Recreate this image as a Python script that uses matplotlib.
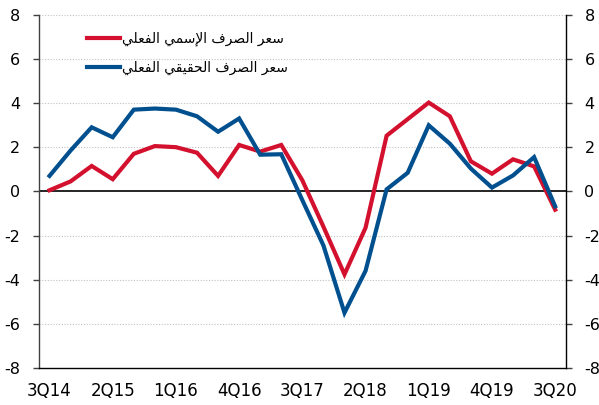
import matplotlib
matplotlib.use("Agg")
import matplotlib.pyplot as plt
import numpy as np

plt.rcParams['font.family'] = ['DejaVu Sans']
plt.rcParams['axes.unicode_minus'] = False

# quarterly data, 3Q14 .. 3Q20
quarters = ['3Q14', '4Q14', '1Q15', '2Q15', '3Q15', '4Q15', '1Q16', '2Q16', '3Q16',
            '4Q16', '1Q17', '2Q17', '3Q17', '4Q17', '1Q18', '2Q18', '3Q18', '4Q18',
            '1Q19', '2Q19', '3Q19', '4Q19', '1Q20', '2Q20', '3Q20']
nominal = [0.05, 0.45, 1.15, 0.55, 1.7, 2.05, 2.0, 1.75, 0.7, 2.1, 1.8, 2.1, 0.5,
           -1.6, -3.76, -1.65, 2.52, 3.27, 4.02, 3.4, 1.36, 0.8, 1.45, 1.13, -0.83]
real = [0.7, 1.85, 2.9, 2.45, 3.7, 3.75, 3.7, 3.4, 2.7, 3.3, 1.66, 1.68, -0.4,
        -2.45, -5.5, -3.6, 0.09, 0.84, 2.99, 2.16, 1.03, 0.17, 0.72, 1.55, -0.68]
label_nominal = 'سعر الصرف الإسمي الفعلي'
label_real = 'سعر الصرف الحقيقي الفعلي'
yticks = [-8, -6, -4, -2, 0, 2, 4, 6, 8]

# matplotlib has no arabic shaping, do a small one by hand
FORMS = {
    'ا': ('\ufe8d', '\ufe8e', None, None),
    'إ': ('\ufe87', '\ufe88', None, None),
    'ر': ('\ufead', '\ufeae', None, None),
    'س': ('\ufeb1', '\ufeb2', '\ufeb3', '\ufeb4'),
    'ع': ('\ufec9', '\ufeca', '\ufecb', '\ufecc'),
    'ل': ('\ufedd', '\ufede', '\ufedf', '\ufee0'),
    'ص': ('\ufeb9', '\ufeba', '\ufebb', '\ufebc'),
    'ف': ('\ufed1', '\ufed2', '\ufed3', '\ufed4'),
    'م': ('\ufee1', '\ufee2', '\ufee3', '\ufee4'),
    'ي': ('\ufef1', '\ufef2', '\ufef3', '\ufef4'),
    'ح': ('\ufea1', '\ufea2', '\ufea3', '\ufea4'),
    'ق': ('\ufed5', '\ufed6', '\ufed7', '\ufed8'),
}
LAMALEF = {'ا': ('\ufefb', '\ufefc'), 'إ': ('\ufef9', '\ufefa')}


def shape(s):
    out = []
    i = 0
    n = len(s)
    while i < n:
        c = s[i]
        if c not in FORMS:
            out.append(c)
            i += 1
            continue
        prev_join = i > 0 and s[i-1] in FORMS and FORMS[s[i-1]][2] is not None
        if c == 'ل' and i + 1 < n and s[i+1] in LAMALEF:
            out.append(LAMALEF[s[i+1]][1 if prev_join else 0])
            i += 2
            continue
        next_join = (FORMS[c][2] is not None and i + 1 < n and s[i+1] in FORMS)
        if prev_join and next_join:
            out.append(FORMS[c][3])
        elif prev_join:
            out.append(FORMS[c][1])
        elif next_join:
            out.append(FORMS[c][2])
        else:
            out.append(FORMS[c][0])
        i += 1
    return ''.join(out)[::-1]


x = np.arange(len(quarters))

fig = plt.figure(figsize=(5.99, 4.05), dpi=100)
ax = fig.add_axes([0.0651, 0.0914, 0.8793, 0.8723])

ax.plot(x, nominal, color='#d3112e', lw=3.0, label=shape(label_nominal), solid_joinstyle='miter')
ax.plot(x, real, color='#00508f', lw=3.0, label=shape(label_real), solid_joinstyle='miter')

ax.set_xlim(-0.5, len(quarters) - 0.5)
ax.set_ylim(-8, 8)
ax.set_yticks(yticks)
ax.set_yticklabels([str(v) for v in yticks])
ax.set_xticks(x[::3])
ax.set_xticklabels(quarters[::3])

for v in yticks:
    if v == 0:
        ax.axhline(v, color='black', lw=1.2, zorder=1)
    elif v != -8:
        ax.axhline(v, color='#c0c0c0', lw=0.8, ls=(0, (1, 1.5)), zorder=0)

ax.spines['top'].set_visible(False)
ax.spines['left'].set_color('#404040')
ax.spines['right'].set_color('black')
ax.spines['bottom'].set_color('black')
for s in ['left', 'right', 'bottom']:
    ax.spines[s].set_linewidth(1.0)

ax.tick_params(axis='y', left=True, right=True, labelleft=True, labelright=True,
               length=4.5, width=1.0, pad=9, labelsize=11.5, color='#404040')
ax.tick_params(axis='x', length=0, pad=10, labelsize=12)

leg = ax.legend(loc='upper left', bbox_to_anchor=(0.091, 0.952), frameon=False,
                fontsize=10, handlelength=2.37, handletextpad=0.15,
                labelspacing=1.05, borderpad=0, borderaxespad=0)

fig.savefig('out.png', dpi=100)
